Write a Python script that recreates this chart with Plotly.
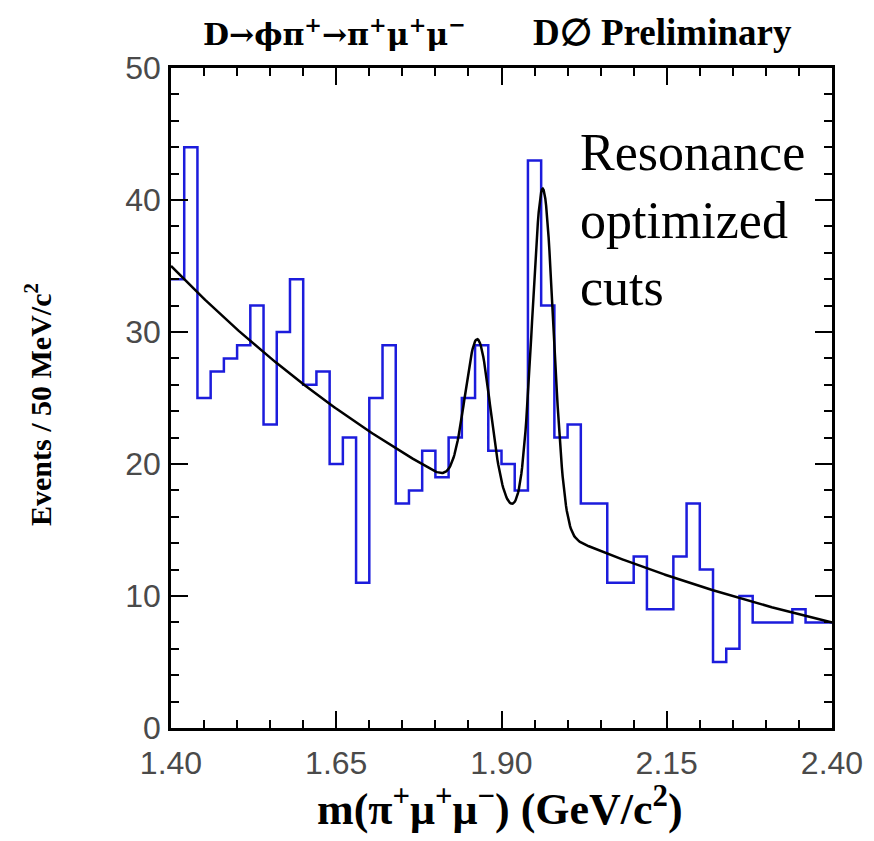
import numpy as np
import plotly.graph_objects as go

# Histogram of m(pi+ mu+ mu-), 20 MeV bins from 1.40 to 2.40 GeV/c^2
bin_low = 1.40
bin_width = 0.02
counts = [34, 44, 25, 27, 28, 29, 32, 23, 30, 34,
          26, 27, 20, 22, 11, 25, 29, 17, 18, 21,
          19, 22, 25, 29, 21, 20, 18, 43, 32, 22,
          23, 17, 17, 11, 11, 13, 9, 9, 13, 17,
          12, 5, 6, 10, 8, 8, 8, 9, 8, 8]

# Fit model: exponential background + two Gaussian peaks (D+ and Ds)
bkg_norm = 35.0      # events at 1.40 GeV
bkg_slope = 1.476    # per GeV
peak_mass = [1.864, 1.9626]
peak_amp = [11.8, 25.6]
peak_sigma = [0.019, 0.016]

x_ticks = [1.40, 1.65, 1.90, 2.15, 2.40]
x_ticktext = ["1.40", "1.65", "1.90", "2.15", "2.40"]

edges = bin_low + bin_width * np.arange(len(counts) + 1)
step_x = list(edges)
step_y = list(counts) + [counts[-1]]

m = np.linspace(1.40, 2.40, 801)
fit = bkg_norm * np.exp(-bkg_slope * (m - 1.40))
for mu, a, s in zip(peak_mass, peak_amp, peak_sigma):
    fit = fit + a * np.exp(-0.5 * ((m - mu) / s) ** 2)

W, H = 874, 841
L, R, T, B = 171, 832, 68, 728


def px(x):
    return (x - L) / (R - L)


def py(y):
    return (B - y) / (B - T)


fig = go.Figure()
fig.add_trace(go.Scatter(x=step_x, y=step_y, mode="lines",
                         line=dict(shape="hv", color="#1c1cdc", width=2.5),
                         hoverinfo="skip"))
fig.add_trace(go.Scatter(x=m, y=fit, mode="lines",
                         line=dict(color="black", width=2.5),
                         hoverinfo="skip"))

tickfont = dict(family="Liberation Sans, Arial, sans-serif", size=32, color="#4a4a4a")
axis_common = dict(showline=True, linewidth=2.5, linecolor="black", mirror="ticks",
                   ticks="inside", ticklen=17, tickwidth=2, tickcolor="black",
                   showgrid=False, zeroline=False, tickfont=tickfont)

fig.update_xaxes(range=[1.40, 2.40], tickvals=x_ticks, ticktext=x_ticktext,
                 minor=dict(dtick=0.05, tick0=1.40, ticks="inside", ticklen=8,
                            tickwidth=2, tickcolor="black", showgrid=False),
                 ticklabelstandoff=5, **axis_common)
fig.update_yaxes(range=[0, 50], tick0=0, dtick=10,
                 minor=dict(dtick=2, tick0=0, ticks="inside", ticklen=8,
                            tickwidth=2, tickcolor="black", showgrid=False),
                 ticklabelstandoff=1, **axis_common)

serif_b = "Liberation Serif, Times New Roman, serif"
annotations = [
    dict(x=px(334), y=py(32), xref="paper", yref="paper", showarrow=False,
         text="<b>D→ϕπ<sup>+</sup>→π<sup>+</sup>μ<sup>+</sup>μ<sup>−</sup></b>",
         font=dict(family="DejaVu Serif, serif", size=30, color="black"),
         xanchor="center", yanchor="middle"),
    dict(x=px(662), y=py(32), xref="paper", yref="paper", showarrow=False,
         text="<b>D∅ Preliminary</b>",
         font=dict(family=serif_b, size=37, color="black"),
         xanchor="center", yanchor="middle"),
    dict(x=px(500), y=py(806), xref="paper", yref="paper", showarrow=False,
         text="<b>m(π<sup>+</sup>μ<sup>+</sup>μ<sup>−</sup>) (GeV/c<sup>2</sup>)</b>",
         font=dict(family=serif_b, size=44, color="black"),
         xanchor="center", yanchor="middle"),
    dict(x=px(38), y=py(405), xref="paper", yref="paper", showarrow=False,
         text="<b>Events / 50 MeV/c<sup>2</sup></b>", textangle=-90,
         font=dict(family=serif_b, size=30, color="black"),
         xanchor="center", yanchor="middle"),
    dict(x=px(578), y=py(122), xref="paper", yref="paper", showarrow=False,
         text="Resonance<br>optimized<br>cuts", align="left",
         font=dict(family=serif_b, size=52, color="black"),
         xanchor="left", yanchor="top"),
]

fig.update_layout(width=W, height=H, autosize=False,
                  margin=dict(l=L, r=W - R, t=T, b=H - B, pad=0),
                  paper_bgcolor="white", plot_bgcolor="white",
                  showlegend=False, annotations=annotations)

fig.write_html("out.html")
